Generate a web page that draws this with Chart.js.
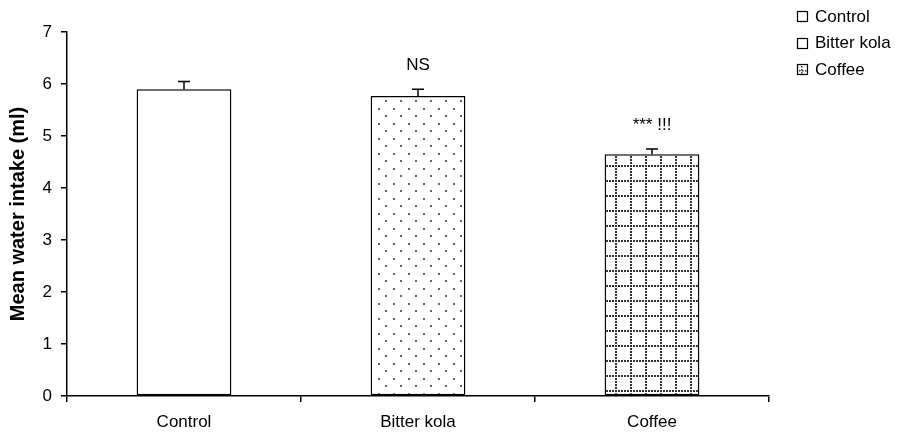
<!DOCTYPE html>
<html>
<head>
<meta charset="utf-8">
<script src="https://cdn.jsdelivr.net/npm/chart.js@4/dist/chart.umd.min.js"></script>
<style>
  html, body { margin: 0; padding: 0; background: #ffffff; }
  #wrap { width: 904px; height: 436px; }
</style>
</head>
<body>
<div id="wrap"><canvas id="chart" width="904" height="436"></canvas></div>
<script>
// Mean water intake per group, with standard error and significance marks
const groups = ['Control', 'Bitter kola', 'Coffee'];
const meanIntake = [5.9, 5.77, 4.65];
const stdError = [0.15, 0.13, 0.10];
const significance = ['', 'NS', '*** !!!'];
const yTicks = [0, 1, 2, 3, 4, 5, 6, 7];

const FONT = '"Liberation Sans", Arial, sans-serif';
const FONT_SIZE = 17;

// Fill patterns: plain, sparse staggered dots, dotted grid
function dotPattern() {
  const c = document.createElement('canvas');
  c.width = 15; c.height = 15;
  const g = c.getContext('2d');
  g.fillStyle = '#ffffff'; g.fillRect(0, 0, 15, 15);
  g.fillStyle = '#666666';
  g.fillRect(3, 3, 2, 2);
  g.fillRect(10, 10, 2, 2);
  return g.createPattern(c, 'repeat');
}
function gridPattern() {
  const c = document.createElement('canvas');
  c.width = 15; c.height = 15;
  const g = c.getContext('2d');
  g.fillStyle = '#ffffff'; g.fillRect(0, 0, 15, 15);
  g.fillStyle = '#333333';
  for (let i = 0; i < 15; i += 3) {
    g.fillRect(i, 0, 2, 2);
    g.fillRect(0, i, 2, 2);
  }
  return g.createPattern(c, 'repeat');
}
const fills = ['#ffffff', dotPattern(), gridPattern()];

// Upward error bars and significance labels above each bar
const errorBars = {
  id: 'errorBars',
  afterDatasetsDraw(chart) {
    const ctx = chart.ctx;
    const y = chart.scales.y;
    const meta = chart.getDatasetMeta(0);
    ctx.save();
    ctx.strokeStyle = '#000000';
    ctx.lineWidth = 1.5;
    meta.data.forEach((bar, i) => {
      const x = bar.x;
      const y0 = y.getPixelForValue(meanIntake[i]);
      const y1 = y.getPixelForValue(meanIntake[i] + stdError[i]);
      ctx.beginPath();
      ctx.moveTo(x, y0); ctx.lineTo(x, y1);
      ctx.moveTo(x - 6, y1); ctx.lineTo(x + 6, y1);
      ctx.stroke();
      if (significance[i]) {
        ctx.fillStyle = '#000000';
        ctx.font = FONT_SIZE + 'px ' + FONT;
        ctx.textAlign = 'center';
        ctx.textBaseline = 'middle';
        ctx.fillText(significance[i], x, y1 - 24);
      }
    });
    ctx.restore();
  }
};

// Legend in the top right corner
const sideLegend = {
  id: 'sideLegend',
  afterDraw(chart) {
    const ctx = chart.ctx;
    ctx.save();
    ctx.font = FONT_SIZE + 'px ' + FONT;
    ctx.textBaseline = 'middle';
    ctx.textAlign = 'left';
    groups.forEach((name, i) => {
      const cy = 16 + i * 26.5;
      const bx = 797, by = Math.round(cy - 5);
      ctx.fillStyle = '#ffffff';
      ctx.fillRect(bx, by, 11, 11);
      if (i === 2) {
        // small dotted swatch for the grid fill
        ctx.fillStyle = '#333333';
        for (let k = 0; k < 3; k++) {
          ctx.fillRect(bx + 2 + k * 3, by + 6, 1.5, 1.5);
          ctx.fillRect(bx + 4, by + 2 + k * 3, 1.5, 1.5);
        }
      }
      ctx.strokeStyle = '#000000';
      ctx.lineWidth = 1.2;
      ctx.strokeRect(bx + 0.5, by + 0.5, 10, 10);
      ctx.fillStyle = '#000000';
      ctx.fillText(name, 815, cy + 1);
    });
    ctx.restore();
  }
};

new Chart(document.getElementById('chart'), {
  type: 'bar',
  data: {
    labels: groups,
    datasets: [{
      label: 'Mean water intake',
      data: meanIntake,
      backgroundColor: fills,
      borderColor: '#000000',
      borderWidth: 1.5,
      borderSkipped: false,
      categoryPercentage: 1,
      barPercentage: 0.405
    }]
  },
  options: {
    responsive: false,
    animation: false,
    devicePixelRatio: 1,
    layout: { padding: { top: 32, right: 135, bottom: 0, left: 0 } },
    plugins: { legend: { display: false }, tooltip: { enabled: false } },
    scales: {
      x: {
        grid: { display: true, offset: true, drawOnChartArea: false, drawTicks: true, tickLength: 6, color: '#000000', lineWidth: 1.5 },
        border: { display: true, color: '#000000', width: 1.5 },
        ticks: { color: '#000000', font: { family: FONT, size: FONT_SIZE }, padding: 10 },
        afterFit(scale) { scale.height = 40; }
      },
      y: {
        min: 0,
        max: 7,
        afterBuildTicks(scale) { scale.ticks = yTicks.map(v => ({ value: v })); },
        grid: { display: true, drawOnChartArea: false, drawTicks: true, tickLength: 6, color: '#000000', lineWidth: 1.5 },
        border: { display: true, color: '#000000', width: 1.5 },
        ticks: { color: '#000000', font: { family: FONT, size: FONT_SIZE }, padding: 9 },
        title: { display: true, text: 'Mean water intake (ml)', color: '#000000', font: { family: FONT, size: 20, weight: 'bold' }, padding: { top: 6, bottom: 0 } },
        afterFit(scale) { scale.width = 67; }
      }
    }
  },
  plugins: [errorBars, sideLegend]
});
</script>
</body>
</html>
